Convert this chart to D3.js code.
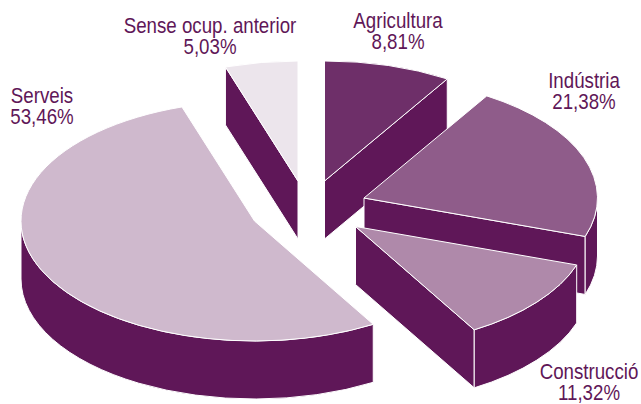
<!DOCTYPE html>
<html>
  <head>
    <meta charset="utf-8">
    <script src="https://d3js.org/d3.v7.min.js"></script>
    <style>
      html, body { margin: 0; background: #fff; }
      svg { display: block; }
      .label { font-family: "Liberation Sans", sans-serif; font-size: 21.5px; fill: #5f1758; text-anchor: middle; }
      .wall, .top { stroke: #fff; stroke-width: 1px; stroke-linejoin: round; }
    </style>
  </head>
  <body>
    <svg id="chart" width="641" height="404"></svg>
    <script>
      // values, clockwise from 12 o'clock
      const categories = ["Agricultura", "Indústria", "Construcció", "Serveis", "Sense ocup. anterior"];
      const percents = [8.81, 21.38, 11.32, 53.46, 5.03];
      const percentLabels = ["8,81%", "21,38%", "11,32%", "53,46%", "5,03%"];
      const colors = ["#6e2f69", "#8f5c8a", "#af89aa", "#cfb9cd", "#ece5ec"];

      // layout of the exploded slices and of the labels
      const apexX = [324.5, 364, 355.5, 254.5, 298];
      const apexY = [181, 198, 226.5, 221, 181];
      const labelX = [398, 584, 589, 42, 210];
      const labelY = [28, 88, 378.5, 103, 33];

      const rx = 233.5, ry = 120, depth = 58;
      const wallColor = "#5f1758";
      const narrow = 0.87; // the label font is condensed, none is installed

      const svg = d3.select("#chart");
      const pie = d3.pie().sort(null).value(d => d);
      const arcs = pie(percents);

      // point on the tilted rim
      const rim = (i, a, dy = 0) => [
        apexX[i] + rx * Math.sin(a),
        apexY[i] - ry * Math.cos(a) + dy
      ];

      // back to front
      const order = [4, 0, 1, 2, 3];

      order.forEach(i => {
        const a0 = arcs[i].startAngle, a1 = arcs[i].endAngle;
        const g = svg.append("g");

        // radial walls, only when they face the viewer
        [[a0, Math.sin(a0) < -1e-6], [a1, Math.sin(a1) > 1e-6]].forEach(([a, show]) => {
          if (!show) return;
          const p = rim(i, a), q = rim(i, a, depth);
          g.append("path").attr("class", "wall").attr("fill", wallColor)
            .attr("d", `M${apexX[i]},${apexY[i]}L${p}L${q}L${apexX[i]},${apexY[i] + depth}Z`);
        });

        // outer wall, front half of the rim only
        const w0 = Math.max(a0, Math.PI / 2), w1 = Math.min(a1, 3 * Math.PI / 2);
        if (w1 > w0) {
          const p0 = rim(i, w0), p1 = rim(i, w1);
          const q0 = rim(i, w0, depth), q1 = rim(i, w1, depth);
          g.append("path").attr("class", "wall").attr("fill", wallColor)
            .attr("d", `M${p0}A${rx},${ry} 0 0 1 ${p1}L${q1}A${rx},${ry} 0 0 0 ${q0}Z`);
        }

        // top face
        const s = rim(i, a0), e = rim(i, a1);
        const large = a1 - a0 > Math.PI ? 1 : 0;
        g.append("path").attr("class", "top").attr("fill", colors[i])
          .attr("d", `M${apexX[i]},${apexY[i]}L${s}A${rx},${ry} 0 ${large} 1 ${e}Z`);
      });

      categories.forEach((c, i) => {
        const t = svg.append("text").attr("class", "label")
          .attr("transform", `translate(${labelX[i]},${labelY[i]}) scale(${narrow},1)`);
        t.append("tspan").attr("x", 0).text(c);
        t.append("tspan").attr("x", 0).attr("dy", 21.5).text(percentLabels[i]);
      });
    </script>
  </body>
</html>
